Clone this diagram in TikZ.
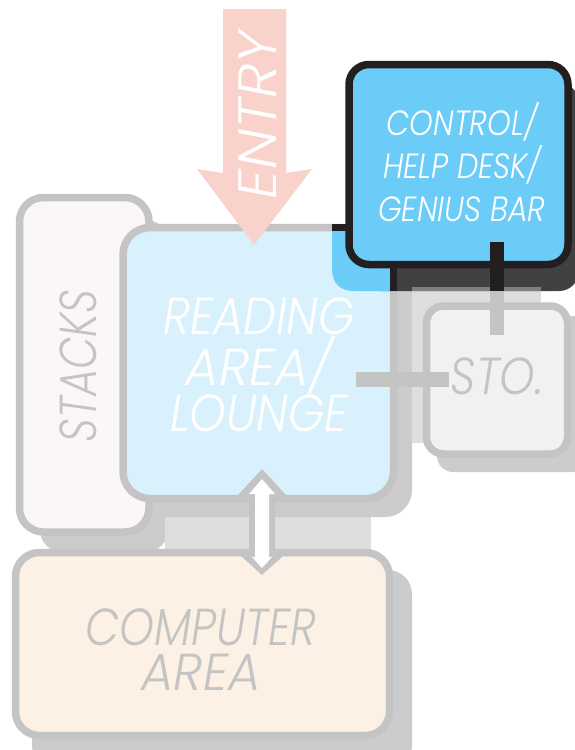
\documentclass[tikz,border=0pt]{standalone}
\usepackage{fontspec}
\usepackage{graphicx}
\setmainfont{Poppins Light}[]
\definecolor{bord}{HTML}{C4C4C4}
\definecolor{shad}{HTML}{CCCCCC}
\definecolor{shadl}{HTML}{DEDEDE}
\definecolor{dark}{HTML}{231F20}
\definecolor{darks}{HTML}{414042}
\definecolor{mids}{HTML}{808080}
\definecolor{bluec}{HTML}{6BCDF7}
\definecolor{bluel}{HTML}{D9F1FC}
\definecolor{pinkb}{HTML}{FBF6FA}
\definecolor{peach}{HTML}{FDF0E4}
\definecolor{stof}{HTML}{F1F1F1}
\definecolor{entryc}{HTML}{F9D2CB}
\tikzset{x=1pt,y=-1pt,
 room/.style={draw=bord,line width=7.5pt,rounded corners=27pt,inner sep=0pt,outer sep=0pt},
 lab/.style={align=center,text=bord,inner sep=0pt},
 wlab/.style={lab,text=white},
 big/.style={font=\fontsize{52}{45}\selectfont\itshape}}
\begin{document}
\begin{tikzpicture}
\useasboundingbox (0,0) rectangle (575,750);
% shadows
\fill[shad,rounded corners=22pt] (40,220) rectangle (168,552);
\fill[shadl] (165,517) rectangle (371,552);
\fill[shad,rounded corners=27pt] (140,245) rectangle (412,517);
\fill[shad,rounded corners=24pt] (32,570) rectangle (412,770);
\fill[shadl] (412,287) rectangle (541,305);
\fill[shadl] (412,287) rectangle (432,443);
\fill[shad,rounded corners=16pt] (437,316) rectangle (590,472);
% stacks
\node[room,fill=pinkb,minimum width=129.5pt,minimum height=334.5pt,rounded corners=24pt] (stacks) at (84.25,364.75) {};
% reading
\node[room,fill=bluel,minimum width=270.5pt,minimum height=271pt] (read) at (258.25,363) {};
% sto
\node[room,fill=stof,minimum width=141pt,minimum height=148pt,rounded corners=17pt] (sto) at (497,380) {};
% computer
\node[room,fill=peach,minimum width=374pt,minimum height=183pt,rounded corners=24pt] (comp) at (202.5,644) {};
% control
\fill[darks,rounded corners=20pt] (360,83) rectangle (579,291);
\fill[mids] (412,287) rectangle (541,291);
\fill[bluec] (332,231) -- (332,269) .. controls (332,283) and (340,291) .. (354,291) -- (390,291) -- (390,231) -- cycle;
\fill[dark] (390,260) rectangle (397,291);
\fill[dark] (332,224) rectangle (350,231);
\node[room,draw=dark,fill=bluec,minimum width=219pt,minimum height=200pt,rounded corners=20pt] (ctrl) at (458.5,164.5) {};
% connectors
\coordinate (stemt) at (497,242);
\coordinate (stemm) at (497,291);
\coordinate (stemb) at (497,335);
\coordinate (hl) at (356,379.5);
\coordinate (hr) at (449,379.5);
\draw[bord,line width=14pt] (stemm) -- (stemb);
\draw[dark,line width=14pt] (stemt) -- (stemm);
\draw[bord,line width=15pt] (hl) -- (hr);
% double arrow
\fill[bord] (262,469) -- (286,495) -- (275,495) -- (275,549) -- (286,549) -- (282,557) -- (262,575) -- (242,557) -- (234,549) -- (249,549) -- (249,495) -- (238,495) -- cycle;
\fill[white] (262,479) -- (275,494) -- (269,494) -- (269,557) -- (272,557) -- (262,568) -- (252,557) -- (255,557) -- (255,494) -- (249,494) -- cycle;
% entry
\fill[entryc] (223,9) -- (286,9) -- (286,173) -- (312,169) -- (254,245) -- (197,169) -- (223,173) -- cycle;
\node[wlab,big,rotate=90,xscale=1.09,font=\fontsize{54}{54}\selectfont\itshape] (e) at (258,115) {ENTRY};
% texts
\node[wlab,big,xscale=.89] (t1) at (259,365) {READING\\\scalebox{1.12}[1]{AREA/}\\LOUNGE};
\node[lab,big,rotate=90,xscale=.81] (t2) at (78,366) {STACKS};
\node[lab,big,xscale=.865] (t3) at (497,376) {STO.};
\node[lab,big,xscale=.85] (t4) at (201,650) {COMPUTER\\\scalebox{1.13}[1]{AREA}};
\node[wlab,xscale=.86,font=\fontsize{35}{43}\selectfont\itshape] (t5) at (462,162) {CONTROL/\\HELP DESK/\\GENIUS BAR};
\end{tikzpicture}
\end{document}
